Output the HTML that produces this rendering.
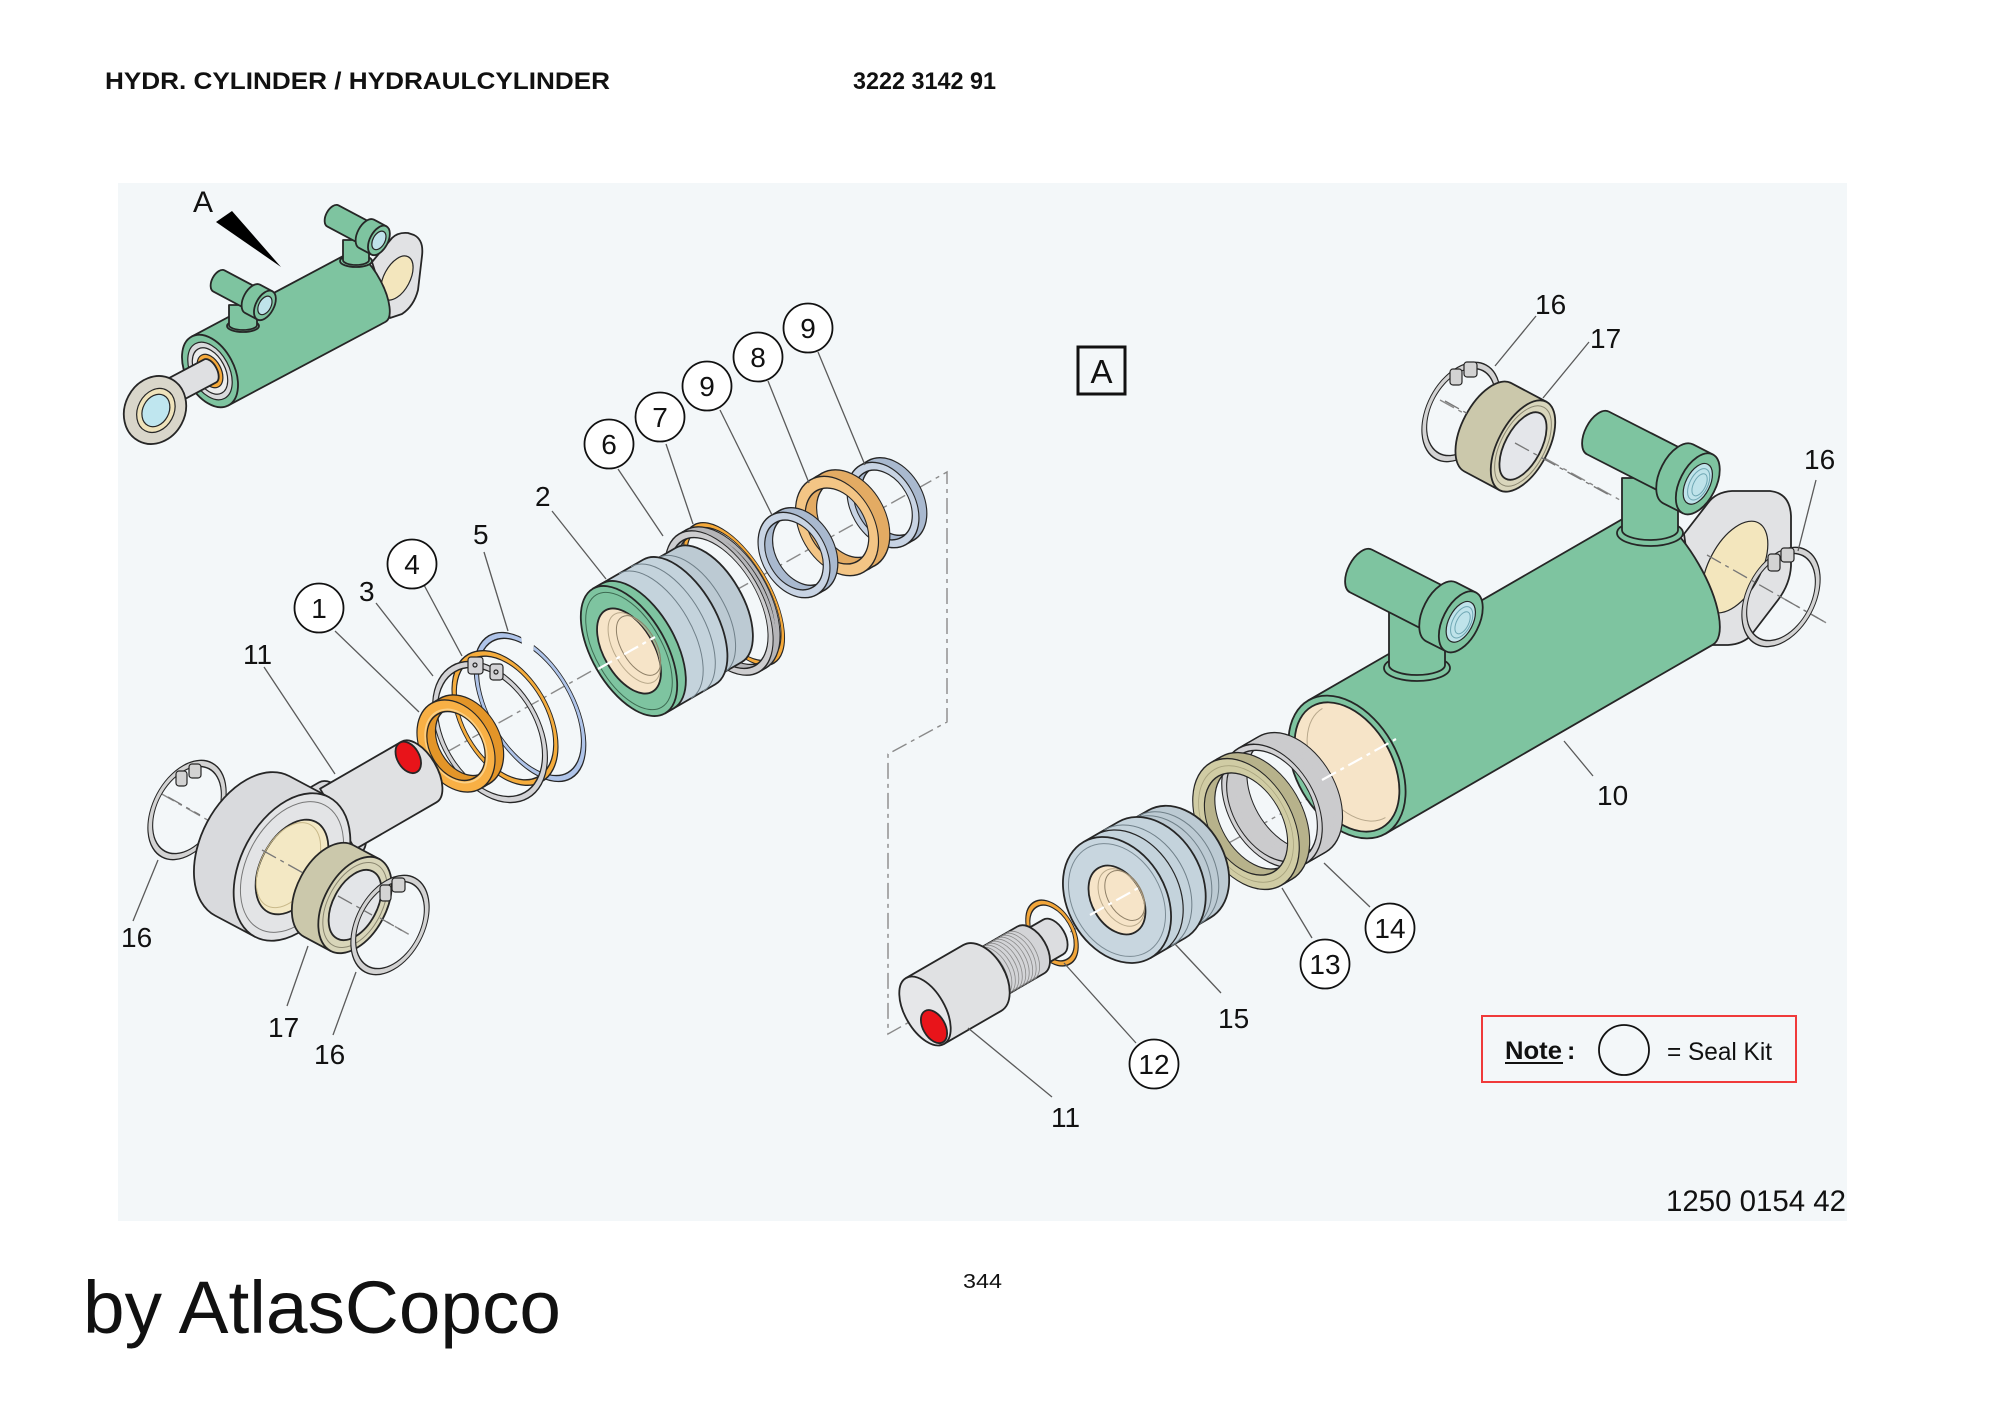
<!DOCTYPE html>
<html><head><meta charset="utf-8">
<style>
html,body{margin:0;padding:0;background:#fff}
svg{display:block}
text{font-family:"Liberation Sans",Arial,Helvetica,sans-serif;fill:#111}
.o{fill:none;stroke:#262626}
.n{fill:none}
.s{stroke:#262626;stroke-width:1.8;stroke-linejoin:round}
.t{stroke:#262626;stroke-width:1.2}
.ld{stroke:#5a5a5a;stroke-width:1.3;fill:none}
.cl{fill:#fff;stroke:#111;stroke-width:1.8}
.lb{font-size:28px}
.dash{fill:none;stroke:#8a8a8a;stroke-width:1.4;stroke-dasharray:16 5 4 5}
.wd{fill:none;stroke:#ffffff;stroke-width:2.2;stroke-dasharray:16 5 4 5}
.gd{fill:none;stroke:#777;stroke-width:1.3;stroke-dasharray:16 5 4 5}
</style></head><body>
<svg width="2000" height="1414" viewBox="0 0 2000 1414" xmlns="http://www.w3.org/2000/svg">
<rect width="2000" height="1414" fill="#fff"/>
<text x="105" y="89" font-size="24" font-weight="bold" textLength="505" lengthAdjust="spacingAndGlyphs">HYDR. CYLINDER / HYDRAULCYLINDER</text>
<text x="853" y="89" font-size="24" font-weight="bold" textLength="143" lengthAdjust="spacingAndGlyphs">3222 3142 91</text>

<rect x="118" y="183" width="1729" height="1038" fill="#f3f7f9"/>

<!-- background dashed axes -->
<path class="dash" d="M420,767 L947,472 L947,722 L888,754 L888,1034 L1400,747"/>
<path class="dash" d="M160,793 L410,935"/>
<path class="dash" d="M1440,400 L1620,500"/>
<path class="dash" d="M1700,551 L1830,625"/>

<!-- ============ OVERVIEW CYLINDER ============ -->
<path class="s" fill="#e1e2e4" d="M372,262 L392,238 Q398,232 408,233 L414,235 Q424,240 422,256 L418,290 Q414,306 402,314 L390,318 Z"/>
<ellipse class="t" fill="#f3e6bd" cx="397" cy="278" rx="13" ry="24" transform="rotate(28 397 278)"/>
<g transform="translate(210,371) rotate(-28)">
  <path class="s" fill="#7ec4a0" d="M0,-39 L178,-39 A15,39 0 0 1 178,39 L0,39 Z"/>
  <ellipse class="s" fill="#7ec4a0" rx="24" ry="39"/>
  <ellipse class="t" fill="#d9dadc" rx="19" ry="31"/>
  <ellipse class="t" fill="#eceded" rx="15" ry="25"/>
  <ellipse class="t" fill="#f5a93b" rx="11" ry="18"/>
  <path class="s" fill="#dfe0e2" d="M-70,-13 L0,-13 A7,13 0 0 1 0,13 L-70,13 Z"/>
</g>
<g transform="translate(155,410) rotate(28)">
  <ellipse class="s" fill="#d9d6ca" rx="30" ry="35"/>
  <ellipse class="t" fill="#efe3bb" cx="1" rx="18" ry="23"/>
  <ellipse class="t" fill="#bfe6ef" cx="1" rx="13" ry="17"/>
</g>
<!-- overview ports -->
<ellipse class="s" fill="#7ec4a0" cx="243" cy="326" rx="16" ry="6"/>
<path class="s" fill="#7ec4a0" d="M229,305 L229,325 A14,5 0 0 0 257,325 L257,305 Z"/>
<g transform="translate(219,281) rotate(28)">
  <path class="s" fill="#7ec4a0" d="M0,-12 L40,-12 L40,12 L0,12 A7,12 0 0 1 0,-12 Z"/>
  <path class="s" fill="#7ec4a0" d="M38,-16 L52,-16 L52,16 L38,16 A9,16 0 0 1 38,-16 Z"/>
  <ellipse class="s" fill="#7ec4a0" cx="52" rx="9" ry="16"/>
  <ellipse class="t" fill="#bfe3ea" cx="52" rx="6" ry="10"/>
</g>
<ellipse class="s" fill="#7ec4a0" cx="356" cy="261" rx="16" ry="6"/>
<path class="s" fill="#7ec4a0" d="M343,240 L343,260 A13,5 0 0 0 369,260 L369,240 Z"/>
<g transform="translate(333,216) rotate(28)">
  <path class="s" fill="#7ec4a0" d="M0,-12 L40,-12 L40,12 L0,12 A7,12 0 0 1 0,-12 Z"/>
  <path class="s" fill="#7ec4a0" d="M38,-16 L52,-16 L52,16 L38,16 A9,16 0 0 1 38,-16 Z"/>
  <ellipse class="s" fill="#7ec4a0" cx="52" rx="9" ry="16"/>
  <ellipse class="t" fill="#bfe3ea" cx="52" rx="6" ry="10"/>
</g>
<polygon points="216,222 232,211 281,267" fill="#000"/>
<text x="193" y="212" font-size="30">A</text>

<!-- ============ LEFT EXPLODED GROUP ============ -->
<!-- ring 9b -->
<g transform="translate(883,505) rotate(-30) scale(.7,1)">
  <circle class="o" cx="13" r="41.5" stroke-width="10"/>
  <circle class="o" cx="6.5" r="41.5" stroke-width="10"/>
  <circle class="n" cx="13" r="41.5" stroke="#a9b9cf" stroke-width="7"/>
  <circle class="n" cx="6.5" r="41.5" stroke="#a9b9cf" stroke-width="7"/>
  <circle class="o" r="41.5" stroke-width="10"/>
  <circle class="n" r="41.5" stroke="#c8d4e4" stroke-width="7"/>
</g>
<!-- ring 8 -->
<g transform="translate(837,526) rotate(-30) scale(.69,1)">
  <circle class="o" cx="19" r="47" stroke-width="14"/>
  <circle class="o" cx="9.5" r="47" stroke-width="14"/>
  <circle class="n" cx="19" r="47" stroke="#e3ab63" stroke-width="11"/>
  <circle class="n" cx="9.5" r="47" stroke="#e3ab63" stroke-width="11"/>
  <circle class="o" r="47" stroke-width="14"/>
  <circle class="n" r="47" stroke="#f3c585" stroke-width="11"/>
</g>
<!-- ring 9a -->
<g transform="translate(794,555) rotate(-30) scale(.7,1)">
  <circle class="o" cx="13" r="41.5" stroke-width="10"/>
  <circle class="o" cx="6.5" r="41.5" stroke-width="10"/>
  <circle class="n" cx="13" r="41.5" stroke="#a9b9cf" stroke-width="7"/>
  <circle class="n" cx="6.5" r="41.5" stroke="#a9b9cf" stroke-width="7"/>
  <circle class="o" r="41.5" stroke-width="10"/>
  <circle class="n" r="41.5" stroke="#c8d4e4" stroke-width="7"/>
</g>
<!-- ring 7 -->
<g transform="translate(734,594) rotate(-30) scale(.45,1)">
  <circle class="o" r="77" stroke-width="7"/>
  <circle class="n" r="77" stroke="#f5a93a" stroke-width="4"/>
</g>
<!-- ring 6 -->
<g transform="translate(719,603) rotate(-30) scale(.53,1)">
  <circle class="o" cx="15" r="76" stroke-width="9"/>
  <circle class="o" cx="7.5" r="76" stroke-width="9"/>
  <circle class="n" cx="15" r="76" stroke="#b5b5b8" stroke-width="6"/>
  <circle class="n" cx="7.5" r="76" stroke="#b5b5b8" stroke-width="6"/>
  <circle class="o" r="76" stroke-width="9"/>
  <circle class="n" r="76" stroke="#cdcdcf" stroke-width="6"/>
</g>
<!-- piston 2 -->
<g transform="translate(629,651) rotate(-30)">
  <path class="s" fill="#bccad3" d="M50,-66 L92,-66 A34,66 0 0 1 92,66 L50,66 Z"/>
  <path class="n" stroke="#6f7f88" stroke-width="1" d="M72,-66 A34,66 0 0 1 72,66"/>
  <path class="s" fill="#c4d3dc" d="M0,-72 L58,-72 A37,72 0 0 1 58,72 L0,72 Z"/>
  <path class="s" fill="#7ec4a0" d="M0,-72 L10,-72 A37,72 0 0 1 10,72 L0,72 Z"/>
  <path class="n" stroke="#6f7f88" stroke-width="1" d="M30,-72 A37,72 0 0 1 30,72"/>
  <path class="n" stroke="#6f7f88" stroke-width="1" d="M44,-72 A37,72 0 0 1 44,72"/>
  <ellipse class="s" fill="#7ec4a0" rx="37" ry="72"/>
  <ellipse class="n" stroke="#3d6b52" stroke-width="1" rx="33" ry="65"/>
  <ellipse class="s" fill="#f6e4c8" rx="25" ry="47"/>
  <ellipse class="n" stroke="#b9a98b" stroke-width="1" cx="6" rx="20" ry="39"/>
  <ellipse class="n" stroke="#8f8068" stroke-width="1" cx="11" rx="17" ry="33"/>
</g>
<!-- ring 5 (open) -->
<g transform="translate(530,707) rotate(-30) scale(.53,1)">
  <circle class="o" r="79" stroke-width="8" stroke-dasharray="425 18 100"/>
  <circle class="n" r="79" stroke="#afc4e9" stroke-width="5" stroke-dasharray="425 18 100"/>
</g>
<!-- ring 4 -->
<g transform="translate(505,718) rotate(-30) scale(.6,1)">
  <circle class="o" r="70.5" stroke-width="7.5"/>
  <circle class="n" r="70.5" stroke="#f5ac3c" stroke-width="4.5"/>
</g>
<!-- ring 3 -->
<g transform="translate(490,732) rotate(-30) scale(.65,1)">
  <circle class="o" r="73" stroke-width="8"/>
  <circle class="n" r="73" stroke="#d3d3d6" stroke-width="5"/>
</g>
<rect class="t" fill="#d3d3d6" x="468" y="657" width="15" height="17" rx="3"/>
<circle class="n t" cx="475" cy="665" r="2"/>
<rect class="t" fill="#d3d3d6" x="490" y="664" width="13" height="16" rx="3"/>
<circle class="n t" cx="496" cy="672" r="2"/>
<!-- ring 1 -->
<g transform="translate(456,746) rotate(-30) scale(.71,1)">
  <circle class="o" cx="14" r="43" stroke-width="14"/>
  <circle class="o" cx="7" r="43" stroke-width="14"/>
  <circle class="n" cx="14" r="43" stroke="#e39528" stroke-width="11"/>
  <circle class="n" cx="7" r="43" stroke="#e39528" stroke-width="11"/>
  <circle class="o" r="43" stroke-width="14"/>
  <circle class="n" r="43" stroke="#f8b045" stroke-width="11"/>
  <circle class="n" r="39" stroke="#fbd086" stroke-width="2"/>
</g>
<!-- circlip 16 left (behind eye) -->
<g transform="translate(187,810) rotate(28) scale(.64,1)">
  <circle class="o" r="50" stroke-width="8"/>
  <circle class="n" r="50" stroke="#d3d3d3" stroke-width="5"/>
</g>
<rect class="t" fill="#d3d3d3" x="176" y="771" width="11" height="15" rx="3"/>
<rect class="t" fill="#d3d3d3" x="189" y="764" width="12" height="14" rx="3"/>
<!-- rod 11 left -->
<g transform="translate(419,772) rotate(-30)">
  <path class="s" fill="#d8d9dc" d="M-112,-41 L-92,-41 A20,41 0 0 1 -92,41 L-112,41 Z"/>
  <path class="s" fill="#e0e1e3" d="M-94,-35 L0,-35 A18,35 0 0 1 0,35 L-94,35 Z"/>
  <ellipse class="s" fill="#e8141a" cx="-2" cy="-18" rx="11" ry="17"/>
</g>
<!-- eye -->
<g transform="translate(292,867) rotate(28)">
  <path class="s" fill="#d9dadd" d="M0,-79 L-45,-79 A51,79 0 0 0 -45,79 L0,79 Z"/>
  <ellipse class="s" fill="#e3e4e6" rx="51" ry="79"/>
  <ellipse class="n" stroke="#777" stroke-width="1" rx="45" ry="70"/>
  <ellipse class="s" fill="#f3e8c4" rx="31" ry="51"/>
  <ellipse class="n" stroke="#c9b98a" stroke-width="1" cx="-4" rx="27" ry="46"/>
</g>
<!-- bushing 17 left -->
<g transform="translate(355,905) rotate(28)">
  <path class="s" fill="#cbc8ab" d="M0,-52 L-30,-52 A31,52 0 0 0 -30,52 L0,52 Z"/>
  <ellipse class="s" fill="#d8d5b9" rx="31" ry="52"/>
  <ellipse class="n" stroke="#8a8670" stroke-width="1" rx="27" ry="46"/>
  <ellipse class="s" fill="#e3e5e8" rx="22" ry="38"/>
</g>
<!-- circlip 16 bottom -->
<g transform="translate(390,925) rotate(28) scale(.64,1)">
  <circle class="o" r="50" stroke-width="8"/>
  <circle class="n" r="50" stroke="#d3d3d3" stroke-width="5"/>
</g>
<rect class="t" fill="#d3d3d3" x="380" y="885" width="11" height="16" rx="3"/>
<rect class="t" fill="#d3d3d3" x="392" y="878" width="13" height="14" rx="3"/>

<!-- ============ RIGHT GROUP ============ -->
<!-- lug -->
<path class="s" fill="#e1e2e4" d="M1684,534 L1708,503 Q1716,492 1732,491 L1770,491 Q1790,493 1791,516 L1791,566 Q1790,584 1778,600 L1752,634 Q1744,644 1728,645 L1700,645 Z"/>
<ellipse class="t" fill="#f3e6bd" cx="1735" cy="567" rx="26" ry="50" transform="rotate(28 1735 567)"/>
<!-- main cylinder 10 -->
<g transform="translate(1347,767) rotate(-30)">
  <path class="s" fill="#7ec4a0" d="M0,-77 L378,-77 A28,77 0 0 1 378,77 L0,77 Z"/>
  <ellipse class="s" fill="#7ec4a0" rx="51" ry="77"/>
  <ellipse class="s" fill="#f6e4c8" rx="45" ry="70"/>
  <path class="n" stroke="#b8a88c" stroke-width="1" d="M8,-63 A40,63 0 0 0 8,63"/>
</g>
<!-- port 1 -->
<ellipse class="s" fill="#7ec4a0" cx="1417" cy="668" rx="33" ry="13"/>
<path class="s" fill="#7ec4a0" d="M1389,612 L1389,665 A28,10 0 0 0 1445,665 L1445,612 Z"/>
<g transform="translate(1361,571) rotate(27)">
  <path class="s" fill="#7ec4a0" d="M0,-24 L92,-24 L92,24 L0,24 A13,24 0 0 1 0,-24 Z"/>
  <path class="s" fill="#7ec4a0" d="M90,-33 L112,-33 L112,33 L90,33 A18,33 0 0 1 90,-33 Z"/>
  <ellipse class="s" fill="#7ec4a0" cx="112" rx="18" ry="33"/>
  <ellipse class="t" fill="#bfe3ea" cx="112" rx="12" ry="22"/>
  <ellipse class="n" stroke="#6fa7b3" stroke-width="1" cx="113" rx="9" ry="17"/>
  <ellipse class="n" stroke="#6fa7b3" stroke-width="1" cx="114" rx="6" ry="12"/>
</g>
<!-- port 2 -->
<ellipse class="s" fill="#7ec4a0" cx="1650" cy="533" rx="33" ry="13"/>
<path class="s" fill="#7ec4a0" d="M1622,478 L1622,530 A28,10 0 0 0 1678,530 L1678,478 Z"/>
<g transform="translate(1598,433) rotate(27)">
  <path class="s" fill="#7ec4a0" d="M0,-24 L92,-24 L92,24 L0,24 A13,24 0 0 1 0,-24 Z"/>
  <path class="s" fill="#7ec4a0" d="M90,-33 L112,-33 L112,33 L90,33 A18,33 0 0 1 90,-33 Z"/>
  <ellipse class="s" fill="#7ec4a0" cx="112" rx="18" ry="33"/>
  <ellipse class="t" fill="#bfe3ea" cx="112" rx="12" ry="22"/>
  <ellipse class="n" stroke="#6fa7b3" stroke-width="1" cx="113" rx="9" ry="17"/>
  <ellipse class="n" stroke="#6fa7b3" stroke-width="1" cx="114" rx="6" ry="12"/>
</g>
<!-- circlip 16 right -->
<g transform="translate(1781,597) rotate(28) scale(.64,1)">
  <circle class="o" r="50" stroke-width="8"/>
  <circle class="n" r="50" stroke="#d3d3d3" stroke-width="5"/>
</g>
<rect class="t" fill="#d3d3d3" x="1768" y="554" width="12" height="17" rx="3"/>
<rect class="t" fill="#d3d3d3" x="1781" y="548" width="13" height="14" rx="3"/>
<!-- circlip 16 top -->
<g transform="translate(1461,412) rotate(28) scale(.64,1)">
  <circle class="o" r="50" stroke-width="8"/>
  <circle class="n" r="50" stroke="#d3d3d3" stroke-width="5"/>
</g>
<rect class="t" fill="#d3d3d3" x="1450" y="369" width="12" height="16" rx="3"/>
<rect class="t" fill="#d3d3d3" x="1464" y="362" width="13" height="15" rx="3"/>
<!-- bushing 17 top -->
<g transform="translate(1523,446) rotate(28)">
  <path class="s" fill="#cbc8ab" d="M0,-50 L-40,-50 A25,50 0 0 0 -40,50 L0,50 Z"/>
  <ellipse class="s" fill="#d9d6bc" rx="25" ry="50"/>
  <ellipse class="n" stroke="#8a8670" stroke-width="1" rx="22" ry="44"/>
  <ellipse class="s" fill="#e4e6ea" rx="18" ry="37"/>
</g>
<!-- ring 14 (smooth band) -->
<g transform="translate(1272,806) rotate(-30) scale(.65,1)">
  <g class="o" stroke-width="8">
    <circle cx="36" r="63.5"/><circle cx="33" r="63.5"/><circle cx="30" r="63.5"/>
    <circle cx="27" r="63.5"/><circle cx="24" r="63.5"/><circle cx="21" r="63.5"/>
    <circle cx="18" r="63.5"/><circle cx="15" r="63.5"/><circle cx="12" r="63.5"/>
    <circle cx="9" r="63.5"/><circle cx="6" r="63.5"/><circle cx="3" r="63.5"/>
  </g>
  <g class="n" stroke="#cbcbcd" stroke-width="5">
    <circle cx="36" r="63.5"/><circle cx="33" r="63.5"/><circle cx="30" r="63.5"/>
    <circle cx="27" r="63.5"/><circle cx="24" r="63.5"/><circle cx="21" r="63.5"/>
    <circle cx="18" r="63.5"/><circle cx="15" r="63.5"/><circle cx="12" r="63.5"/>
    <circle cx="9" r="63.5"/><circle cx="6" r="63.5"/><circle cx="3" r="63.5"/>
  </g>
  <circle class="o" r="63.5" stroke-width="8"/>
  <circle class="n" r="63.5" stroke="#d2d2d4" stroke-width="5"/>
</g>
<!-- seal 13 -->
<g transform="translate(1246,824) rotate(-30) scale(.65,1)">
  <circle class="o" cx="18.5" r="63" stroke-width="17"/>
  <circle class="o" cx="12" r="63" stroke-width="17"/>
  <circle class="o" cx="6" r="63" stroke-width="17"/>
  <circle class="n" cx="18.5" r="63" stroke="#b7b28b" stroke-width="14"/>
  <circle class="n" cx="12" r="63" stroke="#b7b28b" stroke-width="14"/>
  <circle class="n" cx="6" r="63" stroke="#b7b28b" stroke-width="14"/>
  <circle class="o" r="63" stroke-width="17"/>
  <circle class="n" r="63" stroke="#d0cca4" stroke-width="14"/>
  <circle class="n" r="63" stroke="#a8a37e" stroke-width="1"/>
</g>
<!-- piston 15 -->
<g transform="translate(1117,900) rotate(-30)">
  <path class="s" fill="#bccad3" d="M40,-62 L72,-62 A45,62 0 0 1 72,62 L40,62 Z"/>
  <path class="n" stroke="#6f7f88" stroke-width="1" d="M52,-62 A45,62 0 0 1 52,62"/>
  <path class="n" stroke="#6f7f88" stroke-width="1" d="M60,-62 A45,62 0 0 1 60,62"/>
  <path class="s" fill="#c4d3dc" d="M0,-67 L40,-67 A49,67 0 0 1 40,67 L0,67 Z"/>
  <path class="n" stroke="#262626" stroke-width="1.2" d="M14,-67 A49,67 0 0 1 14,67"/>
  <path class="n" stroke="#6f7f88" stroke-width="1" d="M24,-67 A49,67 0 0 1 24,67"/>
  <ellipse class="s" fill="#c8d6df" rx="49" ry="67"/>
  <ellipse class="n" stroke="#7b8b94" stroke-width="1" rx="44" ry="60"/>
  <ellipse class="s" fill="#f6e4c8" rx="25" ry="37"/>
  <ellipse class="n" stroke="#b9a98b" stroke-width="1" cx="5" rx="20" ry="31"/>
  <ellipse class="n" stroke="#8f8068" stroke-width="1" cx="9" rx="17" ry="27"/>
</g>
<!-- o-ring 12 -->
<g transform="translate(1052,933) rotate(-30) scale(.62,1)">
  <circle class="o" r="33" stroke-width="7"/>
  <circle class="n" r="33" stroke="#f2a63a" stroke-width="4"/>
</g>
<!-- rod 11 right -->
<g transform="translate(925,1011) rotate(-30)">
  <path class="s" fill="#dcdde0" d="M118,-20 L148,-20 A12,20 0 0 1 148,20 L118,20 Z"/>
  <path class="s" fill="#d3d4d7" d="M66,-27 L122,-27 A16,27 0 0 1 122,27 L66,27 Z"/>
  <g class="n" stroke="#8b8b8b" stroke-width=".8">
    <path d="M74,-27 A16,27 0 0 1 74,27"/><path d="M78,-27 A16,27 0 0 1 78,27"/>
    <path d="M82,-27 A16,27 0 0 1 82,27"/><path d="M86,-27 A16,27 0 0 1 86,27"/>
    <path d="M90,-27 A16,27 0 0 1 90,27"/><path d="M94,-27 A16,27 0 0 1 94,27"/>
    <path d="M98,-27 A16,27 0 0 1 98,27"/><path d="M102,-27 A16,27 0 0 1 102,27"/>
    <path d="M106,-27 A16,27 0 0 1 106,27"/><path d="M110,-27 A16,27 0 0 1 110,27"/>
  </g>
  <path class="s" fill="#e0e1e3" d="M0,-38 L66,-38 A23,38 0 0 1 66,38 L0,38 Z"/>
  <ellipse class="s" fill="#e6e7e9" rx="20" ry="38"/>
  <ellipse class="s" fill="#e8141a" cy="18" rx="11" ry="18"/>
</g>

<!-- overlay dashed segments (visible through bores) -->
<path class="wd" d="M598,669 L655,637"/>
<path class="wd" d="M1090,915 L1140,887"/>
<path class="wd" d="M1322,780 L1396,739"/>
<path class="gd" d="M262,850 L305,874"/>
<path class="gd" d="M338,896 L372,915"/>
<path class="gd" d="M1515,443 L1611,496"/>
<path class="gd" d="M1707,555 L1823,621"/>
<path class="gd" d="M1445,401 L1470,415"/>
<path class="gd" d="M168,797 L200,815"/>
<path class="gd" d="M380,918 L406,933"/>

<!-- boxed A -->
<rect x="1078" y="347" width="47" height="47" fill="none" stroke="#111" stroke-width="3"/>
<text x="1101.5" y="383" font-size="33" text-anchor="middle">A</text>

<!-- leader lines -->
<g class="ld">
  <path d="M335,631 L419,712"/>
  <path d="M376,603 L433,676"/>
  <path d="M424,585 L462,656"/>
  <path d="M484,552 L508,631"/>
  <path d="M552,511 L606,579"/>
  <path d="M618,469 L663,536"/>
  <path d="M666,444 L693,524"/>
  <path d="M720,410 L772,515"/>
  <path d="M768,381 L809,483"/>
  <path d="M818,352 L865,465"/>
  <path d="M264,667 L335,774"/>
  <path d="M133,921 L158,860"/>
  <path d="M287,1006 L308,946"/>
  <path d="M333,1035 L356,972"/>
  <path d="M1136,1043 L1064,963"/>
  <path d="M1052,1097 L968,1028"/>
  <path d="M1221,993 L1175,944"/>
  <path d="M1312,938 L1282,888"/>
  <path d="M1370,907 L1324,863"/>
  <path d="M1593,776 L1564,741"/>
  <path d="M1536,316 L1495,366"/>
  <path d="M1589,342 L1543,398"/>
  <path d="M1816,480 L1798,551"/>
</g>

<!-- callout circles -->
<g>
  <circle class="cl" cx="319" cy="608" r="24.5"/><text class="lb" x="319" y="618" text-anchor="middle">1</text>
  <circle class="cl" cx="412" cy="564" r="24.5"/><text class="lb" x="412" y="574" text-anchor="middle">4</text>
  <circle class="cl" cx="609" cy="444" r="24.5"/><text class="lb" x="609" y="454" text-anchor="middle">6</text>
  <circle class="cl" cx="660" cy="417" r="24.5"/><text class="lb" x="660" y="427" text-anchor="middle">7</text>
  <circle class="cl" cx="707" cy="386" r="24.5"/><text class="lb" x="707" y="396" text-anchor="middle">9</text>
  <circle class="cl" cx="758" cy="357" r="24.5"/><text class="lb" x="758" y="367" text-anchor="middle">8</text>
  <circle class="cl" cx="808" cy="328" r="24.5"/><text class="lb" x="808" y="338" text-anchor="middle">9</text>
  <circle class="cl" cx="1154" cy="1064" r="24.5"/><text class="lb" x="1154" y="1074" text-anchor="middle">12</text>
  <circle class="cl" cx="1325" cy="964" r="24.5"/><text class="lb" x="1325" y="974" text-anchor="middle">13</text>
  <circle class="cl" cx="1390" cy="928" r="24.5"/><text class="lb" x="1390" y="938" text-anchor="middle">14</text>
</g>

<!-- plain labels -->
<g class="lb">
  <text x="535" y="506">2</text>
  <text x="359" y="601">3</text>
  <text x="473" y="544">5</text>
  <text x="243" y="664">11</text>
  <text x="121" y="947">16</text>
  <text x="268" y="1037">17</text>
  <text x="314" y="1064">16</text>
  <text x="1051" y="1127">11</text>
  <text x="1218" y="1028">15</text>
  <text x="1597" y="805">10</text>
  <text x="1535" y="314">16</text>
  <text x="1590" y="348">17</text>
  <text x="1804" y="469">16</text>
</g>

<!-- note box -->
<rect x="1482" y="1016" width="314" height="66" fill="none" stroke="#f03a3a" stroke-width="2"/>
<text x="1505" y="1059" font-size="25" font-weight="bold" textLength="57" lengthAdjust="spacingAndGlyphs">Note</text>
<line x1="1505" y1="1063" x2="1563" y2="1063" stroke="#111" stroke-width="2"/>
<text x="1567" y="1059" font-size="25" font-weight="bold">:</text>
<circle cx="1624" cy="1050" r="25" fill="none" stroke="#111" stroke-width="1.8"/>
<text x="1667" y="1060" font-size="25" textLength="105" lengthAdjust="spacingAndGlyphs">= Seal Kit</text>

<text x="1666" y="1211" font-size="29.5" textLength="180" lengthAdjust="spacingAndGlyphs">1250 0154 42</text>
<text x="963" y="1288" font-size="20" textLength="39" lengthAdjust="spacingAndGlyphs">344</text>
<text x="83" y="1333" font-size="74" textLength="478" lengthAdjust="spacingAndGlyphs">by AtlasCopco</text>
</svg>
</body></html>
